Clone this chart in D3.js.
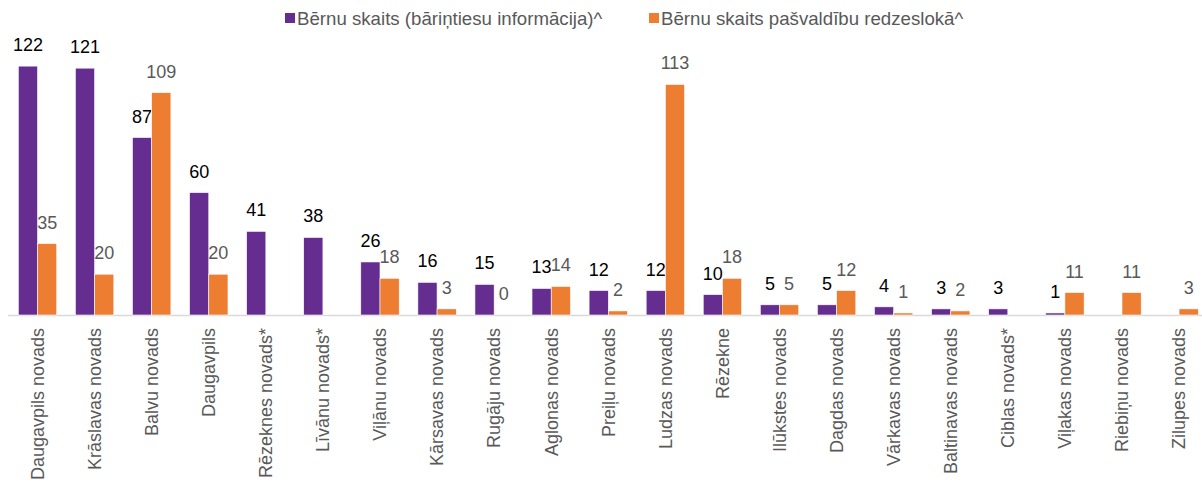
<!DOCTYPE html>
<html>
<head>
<meta charset="utf-8">
<script src="https://cdn.jsdelivr.net/npm/d3@7"></script>
<style>
  html, body { margin: 0; padding: 0; background: #fff; }
  svg { display: block; font-family: "Liberation Sans", Arial, sans-serif; }
</style>
</head>
<body>
<svg id="chart" width="1202" height="483"></svg>
<script>
const categories = [
  "Daugavpils novads", "Krāslavas novads", "Balvu novads", "Daugavpils",
  "Rēzeknes novads*", "Līvānu novads*", "Viļānu novads", "Kārsavas novads",
  "Rugāju novads", "Aglonas novads", "Preiļu novads", "Ludzas novads",
  "Rēzekne", "Ilūkstes novads", "Dagdas novads", "Vārkavas novads",
  "Baltinavas novads", "Ciblas novads*", "Viļakas novads", "Riebiņu novads",
  "Zilupes novads"
];
const seriesNames = [
  "Bērnu skaits (bāriņtiesu informācija)^",
  "Bērnu skaits pašvaldību redzeslokā^"
];
const bariņtiesas = [122, 121, 87, 60, 41, 38, 26, 16, 15, 13, 12, 12, 10, 5, 5, 4, 3, 3, 1, null, null];
const pasvaldibas = [35, 20, 109, 20, null, null, 18, 3, 0, 14, 2, 113, 18, 5, 12, 1, 2, null, 11, 11, 3];
const colors = ["#662d91", "#ed7d31"];
const labelColors = ["#000000", "#595959"];

const svg = d3.select("#chart");
const baseY = 315;
const y = d3.scaleLinear().domain([0, 140]).range([baseY, baseY - 140 * 2.04]);

const x = d3.scaleBand().domain(categories).range([9, 1207.6])
  .paddingInner(0.327).paddingOuter(0.1635);
const xs = d3.scaleBand().domain([0, 1]).range([0, x.bandwidth()]).padding(0);

const seriesData = [bariņtiesas, pasvaldibas];

// axis baseline
svg.append("line")
  .attr("x1", 8).attr("x2", 1202)
  .attr("y1", baseY + 0.5).attr("y2", baseY + 0.5)
  .attr("stroke", "#d9d9d9").attr("stroke-width", 1.5);

seriesData.forEach((vals, s) => {
  const g = svg.append("g");
  const pts = categories.map((c, i) => ({c, v: vals[i]})).filter(d => d.v !== null);
  g.selectAll("rect").data(pts).enter().append("rect")
    .attr("x", d => x(d.c) + xs(s))
    .attr("width", xs.bandwidth())
    .attr("y", d => y(d.v))
    .attr("height", d => Math.max(0, y(0) - y(d.v)))
    .attr("fill", colors[s])
    .attr("stroke", "#ffffff").attr("stroke-width", 0.6);
  g.selectAll("text").data(pts).enter().append("text")
    .attr("x", d => x(d.c) + xs(s) + xs.bandwidth() / 2)
    .attr("y", d => y(d.v) - 15)
    .attr("text-anchor", "middle")
    .attr("font-size", 18)
    .attr("fill", labelColors[s])
    .text(d => d.v);
});

// category labels
const xAxis = svg.append("g");
xAxis.selectAll("text").data(categories).enter().append("text")
  .attr("transform", d => `translate(${x(d) + x.bandwidth() / 2},328) rotate(-90)`)
  .attr("text-anchor", "end")
  .attr("dy", "0.35em")
  .attr("font-size", 18)
  .attr("fill", "#595959")
  .text(d => d);

// legend
const legendX = [285, 649];
seriesNames.forEach((n, s) => {
  svg.append("rect")
    .attr("x", legendX[s]).attr("y", 13)
    .attr("width", 10).attr("height", 10)
    .attr("fill", colors[s]);
  svg.append("text")
    .attr("x", legendX[s] + 12).attr("y", 25)
    .attr("font-size", 18.67)
    .attr("fill", "#595959")
    .text(n);
});
</script>
</body>
</html>
